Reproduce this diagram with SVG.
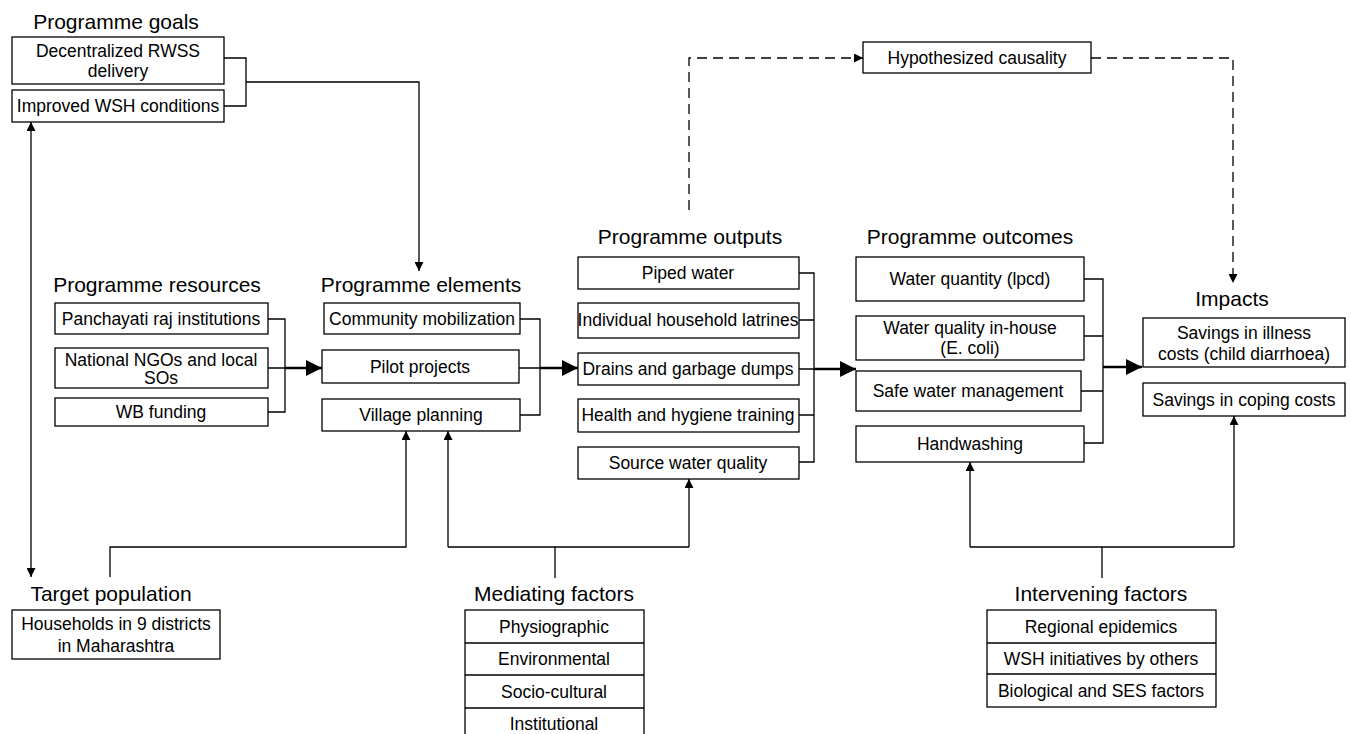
<svg xmlns="http://www.w3.org/2000/svg" width="1351" height="734" viewBox="0 0 1351 734">
<style>
.bg{fill:#fff}
.box{fill:#fff;stroke:#000;stroke-width:1.3}
.t{font-family:"Liberation Sans",Arial,sans-serif;font-size:17.5px;fill:#000;text-anchor:middle}
.h{font-family:"Liberation Sans",Arial,sans-serif;font-size:21px;fill:#000;text-anchor:middle}
.ln{fill:none;stroke:#000;stroke-width:1.3}
.thick{fill:none;stroke:#000;stroke-width:2.4}
.dash{fill:none;stroke:#000;stroke-width:1.3;stroke-dasharray:10 6}
</style>
<defs>
<marker id="a" markerUnits="userSpaceOnUse" markerWidth="10" markerHeight="9" refX="9" refY="4.5" orient="auto-start-reverse"><path d="M0,0 L9,4.5 L0,9 z" fill="#000"/></marker>
<marker id="A" markerUnits="userSpaceOnUse" markerWidth="17" markerHeight="16" refX="16" refY="8" orient="auto"><path d="M0,0 L16,8 L0,16 z" fill="#000"/></marker>
</defs>
<rect class="bg" x="0" y="0" width="1351" height="734"/>

<g id="connectors">
<path class="ln" d="M224 58 H246 V106 H224"/>
<path class="ln" d="M246 82 H419 V271" marker-end="url(#a)"/>
<path class="ln" d="M31 122 V577" marker-start="url(#a)" marker-end="url(#a)"/>
<path class="ln" d="M268 319 H285 V412 H268 M268 368 H285"/>
<path class="thick" d="M285 368 H322" marker-end="url(#A)"/>
<path class="ln" d="M520 319 H540 V415 H520 M519 368 H540"/>
<path class="thick" d="M540 368 H578" marker-end="url(#A)"/>
<path class="ln" d="M799 273 H814 V462 H799 M799 320 H814 M799 369 H814 M799 415 H814"/>
<path class="thick" d="M814 369 H856" marker-end="url(#A)"/>
<path class="ln" d="M1084 279 H1103 V443 H1084 M1084 336 H1103 M1081 391 H1103"/>
<path class="thick" d="M1103 367 H1142" marker-end="url(#A)"/>
<path class="dash" d="M689 210 V58 H863" marker-end="url(#a)"/>
<path class="dash" d="M1091 58 H1233 V283" marker-end="url(#a)"/>
<path class="ln" d="M110 577 V547 H406 V431" marker-end="url(#a)"/>
<path class="ln" d="M555 578 V547 M448 547 H689"/>
<path class="ln" d="M448 547 V431" marker-end="url(#a)"/>
<path class="ln" d="M689 547 V479" marker-end="url(#a)"/>
<path class="ln" d="M1102 578 V547 M970 547 H1234"/>
<path class="ln" d="M970 547 V462" marker-end="url(#a)"/>
<path class="ln" d="M1234 547 V416" marker-end="url(#a)"/>
</g>

<g id="goals">
<text class="h" x="116" y="29">Programme goals</text>
<rect class="box" x="12" y="37" width="212" height="47"/>
<text class="t" x="118" y="57">Decentralized RWSS</text>
<text class="t" x="118" y="77">delivery</text>
<rect class="box" x="12" y="90" width="212" height="32"/>
<text class="t" x="118" y="112">Improved WSH conditions</text>
</g>

<g id="hypothesized">
<rect class="box" x="863" y="42" width="228" height="31"/>
<text class="t" x="977" y="64">Hypothesized causality</text>
</g>

<g id="resources">
<text class="h" x="157" y="292">Programme resources</text>
<rect class="box" x="55" y="303" width="213" height="31"/>
<text class="t" x="161" y="325">Panchayati raj institutions</text>
<rect class="box" x="55" y="348" width="213" height="40"/>
<text class="t" x="161" y="366">National NGOs and local</text>
<text class="t" x="161" y="384">SOs</text>
<rect class="box" x="55" y="398" width="213" height="28"/>
<text class="t" x="161" y="418">WB funding</text>
</g>

<g id="elements">
<text class="h" x="421" y="292">Programme elements</text>
<rect class="box" x="324" y="303" width="196" height="31"/>
<text class="t" x="422" y="325">Community mobilization</text>
<rect class="box" x="322" y="350" width="197" height="33"/>
<text class="t" x="420" y="373">Pilot projects</text>
<rect class="box" x="322" y="399" width="198" height="32"/>
<text class="t" x="421" y="421">Village planning</text>
</g>

<g id="outputs">
<text class="h" x="690" y="244">Programme outputs</text>
<rect class="box" x="578" y="257" width="221" height="32"/>
<text class="t" x="688" y="279">Piped water</text>
<rect class="box" x="578" y="303" width="221" height="35"/>
<text class="t" x="688" y="326">Individual household latrines</text>
<rect class="box" x="578" y="353" width="221" height="32"/>
<text class="t" x="688" y="375">Drains and garbage dumps</text>
<rect class="box" x="578" y="399" width="221" height="33"/>
<text class="t" x="688" y="421">Health and hygiene training</text>
<rect class="box" x="578" y="447" width="221" height="32"/>
<text class="t" x="688" y="469">Source water quality</text>
</g>

<g id="outcomes">
<text class="h" x="970" y="244">Programme outcomes</text>
<rect class="box" x="856" y="257" width="228" height="44"/>
<text class="t" x="970" y="285">Water quantity (lpcd)</text>
<rect class="box" x="856" y="316" width="228" height="44"/>
<text class="t" x="970" y="334">Water quality in-house</text>
<text class="t" x="970" y="354">(E. coli)</text>
<rect class="box" x="856" y="371" width="225" height="40"/>
<text class="t" x="968" y="397">Safe water management</text>
<rect class="box" x="856" y="426" width="228" height="36"/>
<text class="t" x="970" y="450">Handwashing</text>
</g>

<g id="impacts">
<text class="h" x="1232" y="306">Impacts</text>
<rect class="box" x="1143" y="318" width="202" height="49"/>
<text class="t" x="1244" y="339">Savings in illness</text>
<text class="t" x="1244" y="360">costs (child diarrhoea)</text>
<rect class="box" x="1143" y="383" width="202" height="33"/>
<text class="t" x="1244" y="406">Savings in coping costs</text>
</g>

<g id="target">
<text class="h" x="111" y="601">Target population</text>
<rect class="box" x="12" y="610" width="208" height="49"/>
<text class="t" x="116" y="630">Households in 9 districts</text>
<text class="t" x="116" y="652">in Maharashtra</text>
</g>

<g id="mediating">
<text class="h" x="554" y="601">Mediating factors</text>
<rect class="box" x="465" y="610" width="179" height="140"/>
<path class="ln" d="M465 643 H644 M465 675 H644 M465 708 H644"/>
<text class="t" x="554" y="633">Physiographic</text>
<text class="t" x="554" y="665">Environmental</text>
<text class="t" x="554" y="698">Socio-cultural</text>
<text class="t" x="554" y="730">Institutional</text>
</g>

<g id="intervening">
<text class="h" x="1101" y="601">Intervening factors</text>
<rect class="box" x="987" y="610" width="229" height="97"/>
<path class="ln" d="M987 643 H1216 M987 674 H1216"/>
<text class="t" x="1101" y="633">Regional epidemics</text>
<text class="t" x="1101" y="665">WSH initiatives by others</text>
<text class="t" x="1101" y="697">Biological and SES factors</text>
</g>
</svg>
